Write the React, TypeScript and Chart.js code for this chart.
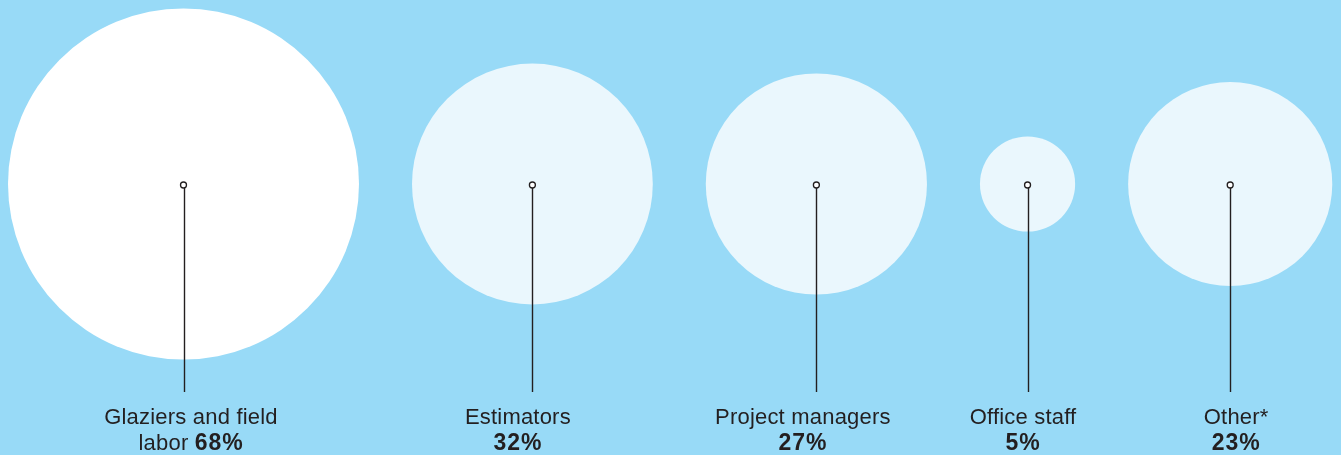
import React, { useEffect, useRef } from "react";
import { Chart, registerables } from "chart.js";

Chart.register(...registerables);

// ---- data ----
const categories = ["Glaziers and field\nlabor", "Estimators", "Project managers", "Office staff", "Other*"];
const shares = [68, 32, 27, 5, 23];
const fills = ["#ffffff", "#eaf7fd", "#eaf7fd", "#eaf7fd", "#eaf7fd"];

// ---- layout ----
const W = 1341;
const H = 455;
const BG = "#98daf7";
const MAX_R = 175.5;
const LEFT = 8;
const GAP = 53;
const CENTER_Y = 184;
const LINE_END_Y = 392;
const LABEL_BASE1 = 424;
const LABEL_BASE2 = 450;
const labelShift = [7.5, -14.5, -13.5, -4.5, 6];
const INK = "#231f20";
const NORMAL_SPACING = "0.2px";
const BOLD_SPACING = "0.9px";

const radii = shares.map((v) => MAX_R * Math.sqrt(v / shares[0]));
const centers: number[] = [];
{
  let x = LEFT;
  radii.forEach((r) => {
    centers.push(x + r);
    x += 2 * r + GAP;
  });
}

export default function App() {
  const ref = useRef<HTMLCanvasElement | null>(null);
  useEffect(() => {
    document.body.style.margin = "0";
    document.body.style.background = BG;
    const canvas = ref.current!;
    const bubbleData = shares.map((v, i) => ({ x: centers[i], y: CENTER_Y, r: radii[i] }));
    const dotData = shares.map((v, i) => ({ x: centers[i], y: CENTER_Y + 1 }));

    const linesPlugin = {
      id: "lines",
      afterDatasetDraw(chart: any, args: any) {
        if (args.index !== 1) return;
        const ctx = chart.ctx;
        const xs = chart.scales.x;
        const ys = chart.scales.y;
        ctx.save();
        ctx.strokeStyle = INK;
        ctx.lineWidth = 1.4;
        dotData.forEach((d) => {
          const px = Math.round(xs.getPixelForValue(d.x)) + 0.5;
          ctx.beginPath();
          ctx.moveTo(px, ys.getPixelForValue(d.y) + 2);
          ctx.lineTo(px, ys.getPixelForValue(LINE_END_Y));
          ctx.stroke();
        });
        ctx.restore();
      },
      afterDraw(chart: any) {
        const ctx = chart.ctx as CanvasRenderingContext2D;
        const xs = chart.scales.x;
        const ys = chart.scales.y;
        ctx.save();
        ctx.fillStyle = INK;
        ctx.textBaseline = "alphabetic";
        ctx.textAlign = "left";
        const normal = "22px 'Liberation Sans', Arial, sans-serif";
        const bold = "bold 23px 'Liberation Sans', Arial, sans-serif";
        const setNormal = () => { (ctx as any).letterSpacing = NORMAL_SPACING; ctx.font = normal; };
        const setBold = () => { (ctx as any).letterSpacing = BOLD_SPACING; ctx.font = bold; };
        categories.forEach((c, i) => {
          const cx = xs.getPixelForValue(centers[i] + labelShift[i]);
          const lines = c.split("\n");
          const first = lines.length > 1 ? lines[0] : c;
          const rest = lines.length > 1 ? lines[1] + " " : "";
          const pct = shares[i] + "%";
          setNormal();
          const w1 = ctx.measureText(first).width;
          ctx.fillText(first, cx - w1 / 2, ys.getPixelForValue(LABEL_BASE1));
          const wr = rest ? ctx.measureText(rest).width : 0;
          setBold();
          const wp = ctx.measureText(pct).width;
          let x0 = cx - (wr + wp) / 2;
          const yb = ys.getPixelForValue(LABEL_BASE2);
          if (rest) {
            setNormal();
            ctx.fillText(rest, x0, yb);
            x0 += wr;
            setBold();
          }
          ctx.fillText(pct, x0, yb);
        });
        ctx.restore();
      },
    };

    const chart = new Chart(canvas, {
      type: "bubble",
      data: {
        datasets: [
          {
            type: "scatter",
            data: dotData,
            pointRadius: 3,
            pointBackgroundColor: "#ffffff",
            pointBorderColor: INK,
            pointBorderWidth: 1.3,
            order: 1,
            clip: false,
          } as any,
          {
            data: bubbleData,
            backgroundColor: fills,
            borderWidth: 0,
            order: 2,
            clip: false,
          },
        ],
      },
      options: {
        responsive: false,
        animation: false,
        events: [],
        layout: { padding: 0, autoPadding: false },
        plugins: { legend: { display: false }, tooltip: { enabled: false } },
        scales: {
          x: { type: "linear", min: 0, max: W, display: false },
          y: { type: "linear", min: 0, max: H, reverse: true, display: false },
        },
      } as any,
      plugins: [linesPlugin],
    });
    return () => chart.destroy();
  }, []);
  return (
    <div style={{ width: W, height: H, background: BG }}>
      <canvas ref={ref} width={W} height={H} style={{ display: "block" }} />
    </div>
  );
}
